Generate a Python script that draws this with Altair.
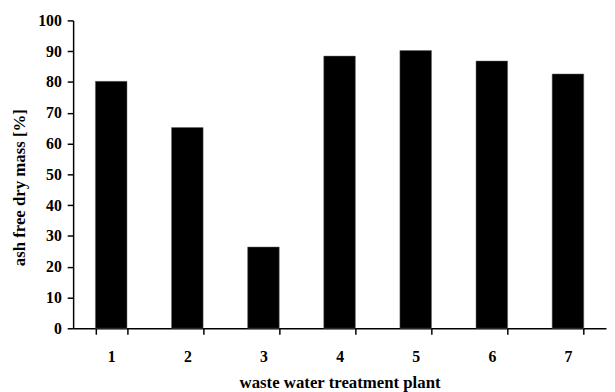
import altair as alt
import pandas as pd

plants = ["1", "2", "3", "4", "5", "6", "7"]
afdm = [80.2, 65.2, 26.4, 88.4, 90.2, 86.8, 82.6]

df = pd.DataFrame({"plant": plants, "afdm": afdm})

FONT = "Liberation Serif"

chart = alt.Chart(df).mark_bar(color="black", stroke="#666666", strokeWidth=0.5).encode(
    x=alt.X("plant:N", sort=plants,
            scale=alt.Scale(paddingInner=0.585, paddingOuter=0.2925),
            axis=alt.Axis(title="waste water treatment plant", labelAngle=0,
                          tickBand="extent", tickSize=6, labelPadding=15,
                          titlePadding=10)),
    y=alt.Y("afdm:Q", scale=alt.Scale(domain=[0, 100]),
            axis=alt.Axis(title="ash free dry mass [%]", values=list(range(0, 101, 10)),
                          tickSize=6, labelPadding=6, titlePadding=9, titleY=169,
                          grid=False)),
).properties(
    width=540, height=312,
    autosize=alt.AutoSizeParams(type="none"),
    padding={"left": 66, "top": 10, "right": 1, "bottom": 62},
).configure_view(stroke=None).configure_axis(
    domainColor="black", tickColor="black", domainWidth=1.5, tickWidth=1.5,
    labelFont=FONT, titleFont=FONT, labelFontWeight="bold", titleFontWeight="bold",
    labelFontSize=16, titleFontSize=17, labelColor="black", titleColor="black",
)

chart.save("out.html", embed_options={"renderer": "svg", "actions": False})
